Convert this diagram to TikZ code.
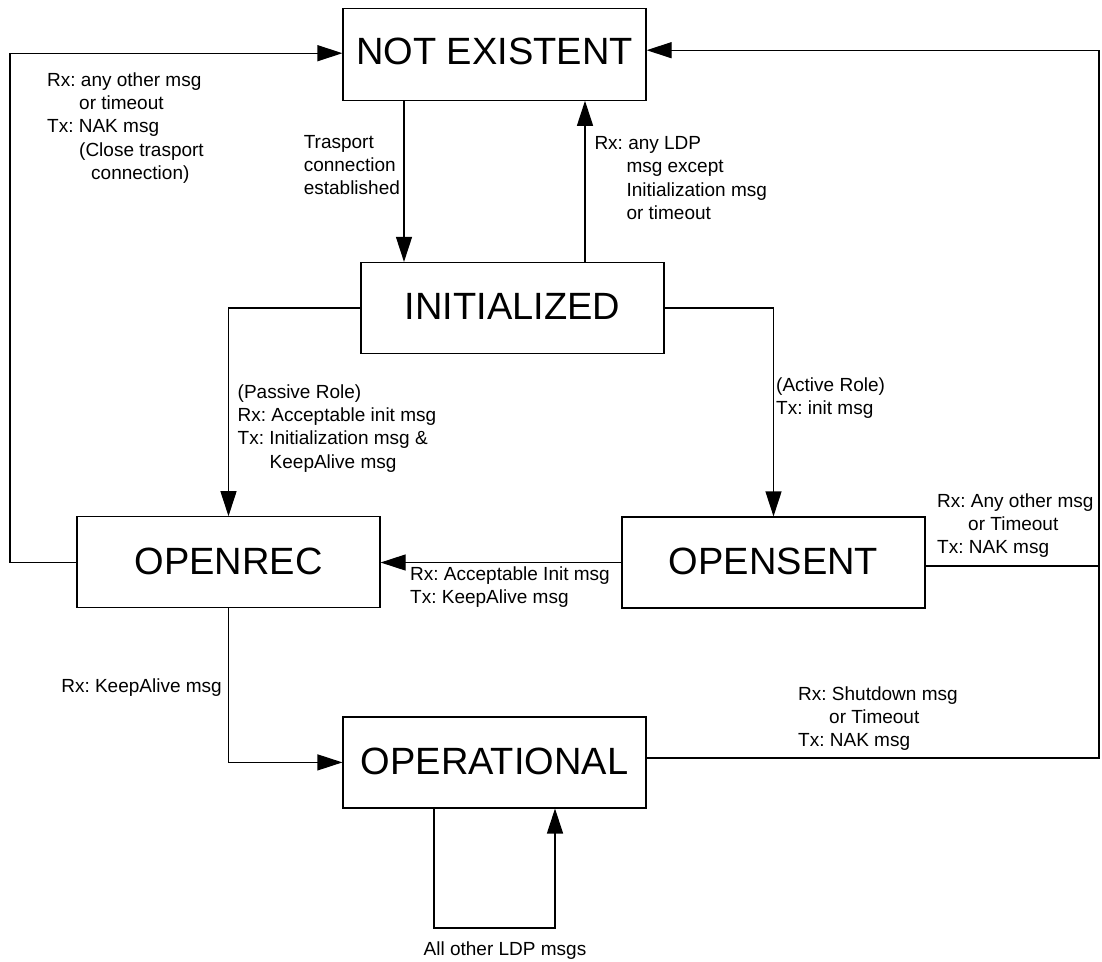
\documentclass[tikz,border=0pt]{standalone}
\usepackage{fontspec}
\setmainfont{Liberation Sans}
\usetikzlibrary{arrows.meta}
\frenchspacing
% multi-line transition label, baseline on its first line
\newcommand\ldplines[1]{\begin{tabular}[t]{@{}l@{}}#1\end{tabular}}

\begin{document}
\begin{tikzpicture}[x=1pt, y=-1pt,
  state/.style={draw, line width=1.2pt, minimum width=303pt, minimum height=91pt,
    inner sep=0pt, font=\fontsize{38}{40}\selectfont, text depth=3pt},
  wire/.style={line width=1.2pt},
  arr/.style={wire, -{Triangle[length=25pt,width=16pt]}},
  lbl/.style={inner sep=0pt, anchor=base west, font=\fontsize{19}{23.4}\selectfont}]
\useasboundingbox (0,0) rectangle (1102,961);

% states
\node[state, minimum height=92pt, text depth=6pt] (ne) at (494.5,54.2) {NOT EXISTENT};
\node[state] (init)     at (512.5,308)   {INITIALIZED};
\node[state] (openrec)  at (228.5,562.3) {OPENREC};
\node[state] (opensent) at (773.5,562.5) {OPENSENT};
\node[state] (oper)     at (494.5,762.4) {OPERATIONAL};

% routing columns and rows
\coordinate (xTr)   at (404,0);
\coordinate (xLdp)  at (585,0);
\coordinate (xL)    at (10,0);
\coordinate (xR)    at (1099,0);
\coordinate (xLa)   at (434,0);
\coordinate (xLb)   at (555,0);
\coordinate (yLoop) at (0,928);
\coordinate (neL) at ([yshift=1pt]ne.west);
\coordinate (neR) at ([yshift=4pt]ne.east);
\coordinate (osR) at ([yshift=-3.5pt]opensent.east);
\coordinate (opR) at ([yshift=4.5pt]oper.east);

% transitions
\draw[arr] (ne.south -| xTr) -- (init.north -| xTr);
\draw[arr] (init.north -| xLdp) -- (ne.south -| xLdp);
\draw[arr] (init.west) -- (init.west -| openrec.north) -- (openrec.north);
\draw[arr] (init.east) -- (init.east -| opensent.north) -- (opensent.north);
\draw[arr] (openrec.west) -- (xL |- openrec.west) -- (xL |- neL) -- (neL);
\draw[arr] (opensent.west) -- (opensent.west -| openrec.east);
\draw[wire] (osR) -- (xR |- osR);
\draw[arr] (opR) -- (xR |- opR) -- (xR |- neR) -- (neR);
\draw[arr] (openrec.south) -- (openrec.south |- oper.west) -- (oper.west);
\draw[arr] (oper.south -| xLa) -- (xLa |- yLoop) -- (xLb |- yLoop) -- (oper.south -| xLb);

% transition labels
\node[lbl] (l1) at (47,86) {\ldplines{Rx: any other msg\\ \hspace*{32pt}or timeout\\ Tx: NAK msg\\ \hspace*{32pt}(Close trasport\\ \hspace*{44pt}connection)}};
\node[lbl] (l2) at (303.6,148) {\ldplines{Trasport\\ connection\\ established}};
\node[lbl] (l3) at (594.3,149.5) {\ldplines{Rx: any LDP\\ \hspace*{32pt}msg except\\ \hspace*{32pt}Initialization msg\\ \hspace*{32pt}or timeout}};
\node[lbl] (l4) at (237.5,398) {\ldplines{(Passive Role)\\ Rx: Acceptable init msg\\ Tx: Initialization msg \&\\ \hspace*{32pt}KeepAlive msg}};
\node[lbl] (l5) at (776,391) {\ldplines{(Active Role)\\ Tx: init msg}};
\node[lbl] (l6) at (937,507) {\ldplines{Rx: Any other msg\\ \hspace*{31pt}or Timeout\\ Tx: NAK msg}};
\node[lbl] (l7) at (410,580) {\ldplines{Rx: Acceptable Init msg\\ Tx: KeepAlive msg}};
\node[lbl, anchor=base east] (l8) at (222,692) {Rx: KeepAlive msg};
\node[lbl] (l9) at (798,700) {\ldplines{Rx: Shutdown msg\\ \hspace*{31pt}or Timeout\\ Tx: NAK msg}};
\node[lbl, anchor=base] (l10) at (505,955) {All other LDP msgs};
\end{tikzpicture}
\end{document}
